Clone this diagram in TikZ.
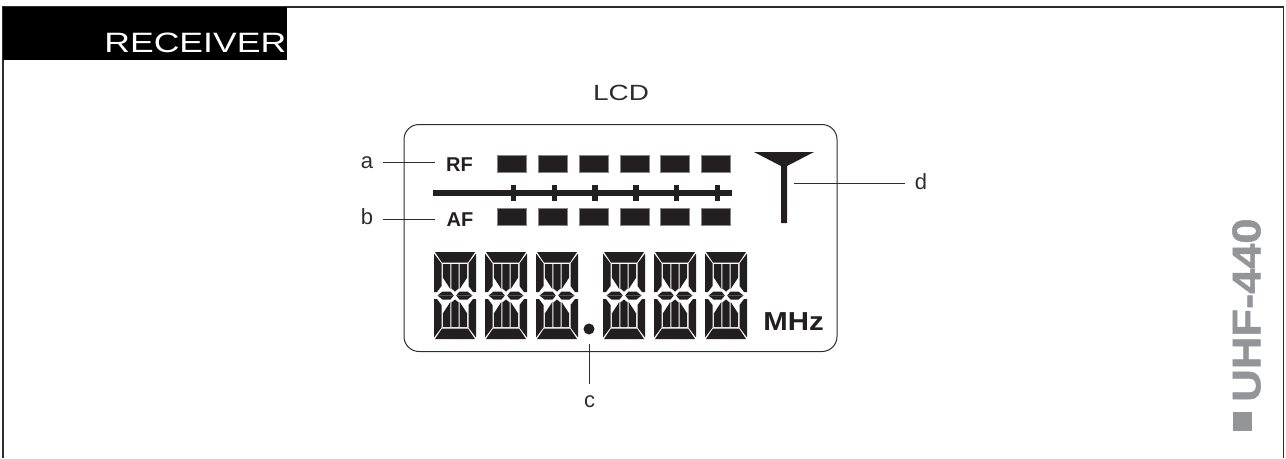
\documentclass[tikz,border=0pt]{standalone}
\usepackage{xcolor}
\usepackage{fontspec}
\usetikzlibrary{positioning}
\setmainfont{Liberation Sans}
\newfontfamily\widefont[FakeStretch=1.27]{Liberation Sans}
\newfontfamily\widebold[FakeStretch=1.13]{Liberation Sans Bold}
\newfontfamily\modelfont[FakeStretch=1.13,FakeBold=1.2]{Liberation Sans Bold}
\definecolor{framegrau}{RGB}{45,45,45}
\definecolor{lcdblack}{RGB}{35,31,32}
\definecolor{modelgrau}{RGB}{147,149,152}

\begin{document}
\begin{tikzpicture}[
    x=1pt, y=-1pt,
    tabbox/.style={
        rectangle, fill=black, text=white, anchor=north west,
        minimum height=53pt, text width=282pt, align=right,
        text height=45pt, text depth=8pt,
        inner xsep=1pt, inner ysep=0pt,
        font=\fontsize{28}{30}\selectfont\widefont
    },
    lcdframe/.style={
        rectangle, draw=framegrau, line width=1pt, rounded corners=15pt,
        minimum width=433pt, minimum height=227pt, anchor=north west
    },
    bar/.style={
        rectangle, fill=lcdblack, draw=lcdblack!55, line width=0.6pt, inner sep=0pt,
        minimum width=29pt, minimum height=17pt
    },
    tick/.style={
        rectangle, fill=lcdblack, inner sep=0pt,
        minimum width=5.5pt, minimum height=16pt
    },
    lbl/.style={
        font=\fontsize{22}{24}\selectfont, text=framegrau, inner sep=0pt
    },
    title/.style={
        font=\fontsize{22}{24}\selectfont\widefont, text=framegrau, inner sep=0pt
    },
    tag/.style={
        font=\fontsize{20}{22}\selectfont\bfseries, text=lcdblack, inner sep=0pt
    },
    leader/.style={
        framegrau, line width=0.8pt
    },
    lcdquarter/.pic={
        \fill[lcdblack] (1,0) -- (21,0) -- (21,10.5) -- (8,10.5) -- cycle;
        \fill[lcdblack] (0,1.5) -- (7.5,11.5) -- (7.5,34) -- (3,40) -- (0,40) -- cycle;
        \fill[lcdblack] (8.8,12) -- (16.3,12) -- (16.3,37) -- (8.8,25.5) -- cycle;
        \fill[lcdblack] (17.4,12) -- (21,12) -- (21,39.5) -- (17.4,36.5) -- cycle;
        \fill[lcdblack] (3.5,43.5) -- (8.5,39.5) -- (16.5,39.5) -- (19.8,43.5) -- cycle;
    }
]

% page frame, open at the bottom
\draw[framegrau, line width=1.4pt] (3,458) -- (3,7) -- (1283.5,7) -- (1283.5,458);
\node[tabbox] (tab) at (3,7) {RECEIVER};

\node[title] (lcdtitle) at (621,93) {LCD};
\node[lcdframe] (lcd) at (403.5,124) {};

% level bars
\foreach \i in {0,...,5} {
    \node[bar] (rf\i) at (512+40.8*\i,163.5) {};
    \node[bar] (af\i) at (512+40.8*\i,217) {};
    \node[tick] (tick\i) at (513.5+40.8*\i,193) {};
}
\fill[lcdblack] (433,189.5) rectangle (732,195.5);

\node[tag] (rf) at (459.5,164.5) {RF};
\node[tag] (af) at (460,219.5) {AF};

% antenna
\fill[lcdblack] (754,152) -- (814,152) -- (787,166) -- (787,223) -- (781,223) -- (781,166) -- cycle;
\coordinate (antenna) at (794,183.5);

% frequency digits
\foreach \x in {434,485,536,603,654,705} {
    \foreach \sx/\sy/\ox/\oy in {1/1/0/0, -1/1/42/0, 1/-1/0/87, -1/-1/42/87} {
        \pic[xscale=\sx, yscale=\sy] at (\x+\ox,252+\oy) {lcdquarter};
    }
}
\node[circle, fill=lcdblack, inner sep=0pt, minimum size=11pt] (dot) at (589,329) {};
\node[tag, font=\fontsize{26}{28}\selectfont\widebold] (mhz) at (793.5,322) {MHz};

% callouts
\node[lbl] (lbla) at (367,163) {a};
\node[lbl] (lblb) at (367,216.5) {b};
\node[lbl] (lblc) at (589.5,402) {c};
\node[lbl] (lbld) at (921,181.5) {d};
\coordinate (aend) at (382.5,162.7);
\coordinate (bend) at (382.5,219);
\coordinate (cend) at (589,384);
\coordinate (dend) at (905,183.5);
\draw[leader] (aend) -- (435,162.7);
\draw[leader] (bend) -- (435,219);
\draw[leader, shorten <=9.5pt] (dot) -- (cend);
\draw[leader] (antenna) -- (dend);

% model name
\node[rotate=90, anchor=west, inner sep=0pt, text=modelgrau,
    font=\fontsize{40}{42}\selectfont\modelfont] (model) at (1246.5,402) {UHF-440};
\node[rectangle, fill=modelgrau, inner sep=0pt, minimum size=19pt] (square) at (1242.5,421.5) {};

\useasboundingbox (0,0) rectangle (1286,458);
\end{tikzpicture}
\end{document}
